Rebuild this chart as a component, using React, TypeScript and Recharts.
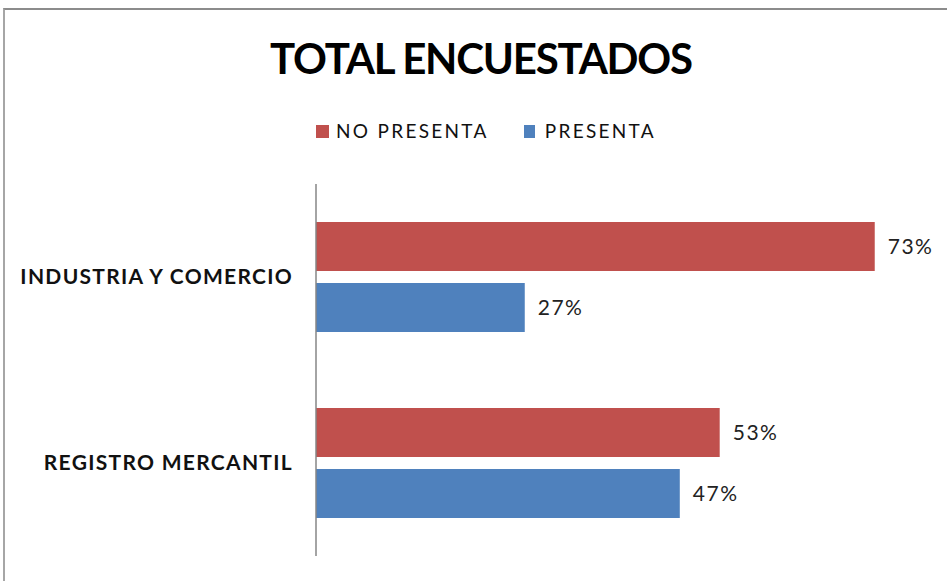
import React from 'react';
import { BarChart, Bar, XAxis, YAxis, LabelList } from 'recharts';

const categories = ['INDUSTRIA Y COMERCIO', 'REGISTRO MERCANTIL'];
const noPresenta = [72.8, 52.6];
const presenta = [27.2, 47.4];
const seriesNames = { noPresenta: 'NO PRESENTA', presenta: 'PRESENTA' };

const RED = '#C0504D';
const BLUE = '#4F81BD';

const data = categories.map((name, i) => ({
  name,
  noPresenta: noPresenta[i],
  presenta: presenta[i],
}));

const CategoryTick = (props: any) => {
  const { x, y, payload } = props;
  return (
    <text
      x={x}
      y={y}
      dy={7}
      textAnchor="end"
      fill="#111"
      style={{ fontFamily: 'Lato', fontWeight: 700, fontSize: '21px', letterSpacing: '1.3px' }}
    >
      {payload.value}
    </text>
  );
};

// legend drawn outside the chart so it doesn't eat plot space
const ChartLegend = () => (
  <div
    style={{
      position: 'absolute',
      left: 316,
      top: 120,
      display: 'flex',
      alignItems: 'center',
      fontFamily: 'Lato',
      fontSize: '19px',
      lineHeight: '22px',
      color: '#111',
      letterSpacing: '2.3px',
      whiteSpace: 'nowrap',
    }}
  >
    <span style={{ display: 'inline-block', width: 13, height: 13, background: RED, marginRight: 7 }} />
    <span style={{ marginRight: 35 }}>{seriesNames.noPresenta}</span>
    <span style={{ display: 'inline-block', width: 11, height: 13, background: BLUE, marginRight: 10 }} />
    <span>{seriesNames.presenta}</span>
  </div>
);

const pct = (v: any) => `${Math.round(Number(v))}%`;

const labelStyle = { fontFamily: 'Lato', fontSize: '21px', fill: '#222', letterSpacing: '1.5px' };

export default function App() {
  return (
    <div style={{ position: 'absolute', left: 0, top: 0, width: 947, height: 581, background: '#fff', overflow: 'hidden' }}>
      <div
        style={{
          position: 'absolute',
          left: 3,
          top: 8,
          width: 960,
          height: 600,
          borderTop: '2px solid #8c8c8c',
          borderLeft: '2px solid #a6a6a6',
          boxSizing: 'border-box',
        }}
      />
      <div
        style={{
          position: 'absolute',
          left: 0,
          top: 37,
          width: 962,
          textAlign: 'center',
          fontFamily: 'Lato',
          fontWeight: 700,
          fontSize: '42px',
          lineHeight: 1,
          color: '#000',
          letterSpacing: '-1.2px',
        }}
      >
        TOTAL ENCUESTADOS
      </div>
      <ChartLegend />
      <div style={{ position: 'absolute', left: 0, top: 0 }}>
        <BarChart
          width={947}
          height={581}
          data={data}
          layout="vertical"
          margin={{ top: 184, right: 17, bottom: 25, left: 16 }}
          barSize={49}
          barGap={12}
        >
          <XAxis type="number" domain={[0, 80]} hide />
          <YAxis
            type="category"
            dataKey="name"
            width={300}
            axisLine={{ stroke: '#868686', strokeWidth: 1.5 }}
            tickLine={false}
            tickSize={8}
            tickMargin={15}
            tick={<CategoryTick />}
          />
          <Bar dataKey="noPresenta" name={seriesNames.noPresenta} fill={RED} isAnimationActive={false}>
            <LabelList dataKey="noPresenta" position="right" offset={13} formatter={pct} style={labelStyle} />
          </Bar>
          <Bar dataKey="presenta" name={seriesNames.presenta} fill={BLUE} isAnimationActive={false}>
            <LabelList dataKey="presenta" position="right" offset={13} formatter={pct} style={labelStyle} />
          </Bar>
        </BarChart>
      </div>
    </div>
  );
}
